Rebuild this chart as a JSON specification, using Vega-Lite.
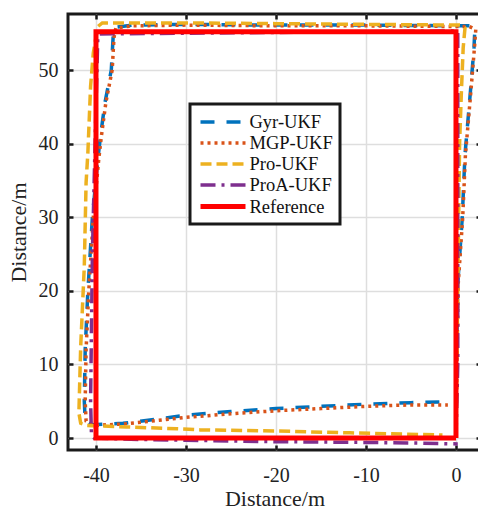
{
  "$schema": "https://vega.github.io/schema/vega-lite/v6.json",
  "width": 413,
  "height": 436,
  "autosize": "none",
  "padding": {"left": 68, "top": 14, "right": 0, "bottom": 60},
  "background": "white",
  "config": {
    "view": {"stroke": "#1a1a1a", "strokeWidth": 3},
    "font": "Liberation Serif",
    "axis": {
      "labelFont": "Liberation Serif",
      "titleFont": "Liberation Serif",
      "labelFontSize": 20,
      "titleFontSize": 22,
      "titleFontWeight": "normal",
      "labelColor": "#222222",
      "titleColor": "#222222",
      "tickColor": "#1a1a1a",
      "tickWidth": 2.5,
      "tickSize": -5,
      "domain": false,
      "gridColor": "#dedede",
      "gridWidth": 1.5
    },
    "legend": {"strokeColor": "#1a1a1a", "strokeWidth": 3, "fillColor": "white"}
  },
  "data": {
    "values": [
      {"s": "Gyr-UKF", "o": 0, "x": 0, "y": 0},
      {"s": "Gyr-UKF", "o": 1, "x": 0.05, "y": 10},
      {"s": "Gyr-UKF", "o": 2, "x": 0.2, "y": 21},
      {"s": "Gyr-UKF", "o": 3, "x": 0.7, "y": 30},
      {"s": "Gyr-UKF", "o": 4, "x": 1.0, "y": 38.5},
      {"s": "Gyr-UKF", "o": 5, "x": 1.6, "y": 47},
      {"s": "Gyr-UKF", "o": 6, "x": 2.0, "y": 53},
      {"s": "Gyr-UKF", "o": 7, "x": 2.1, "y": 55.6},
      {"s": "Gyr-UKF", "o": 8, "x": 1.5, "y": 56.0},
      {"s": "Gyr-UKF", "o": 9, "x": -10, "y": 56.1},
      {"s": "Gyr-UKF", "o": 10, "x": -20, "y": 56.1},
      {"s": "Gyr-UKF", "o": 11, "x": -30, "y": 56.2},
      {"s": "Gyr-UKF", "o": 12, "x": -36, "y": 56.1},
      {"s": "Gyr-UKF", "o": 13, "x": -37.9, "y": 55.8},
      {"s": "Gyr-UKF", "o": 14, "x": -38.1, "y": 54.4},
      {"s": "Gyr-UKF", "o": 15, "x": -38.3, "y": 50},
      {"s": "Gyr-UKF", "o": 16, "x": -39.0, "y": 45.6},
      {"s": "Gyr-UKF", "o": 17, "x": -39.5, "y": 41},
      {"s": "Gyr-UKF", "o": 18, "x": -39.8, "y": 37.8},
      {"s": "Gyr-UKF", "o": 19, "x": -40.4, "y": 30},
      {"s": "Gyr-UKF", "o": 20, "x": -40.9, "y": 20},
      {"s": "Gyr-UKF", "o": 21, "x": -41.2, "y": 12},
      {"s": "Gyr-UKF", "o": 22, "x": -41.3, "y": 5},
      {"s": "Gyr-UKF", "o": 23, "x": -41.2, "y": 2.4},
      {"s": "Gyr-UKF", "o": 24, "x": -40.5, "y": 1.8},
      {"s": "Gyr-UKF", "o": 25, "x": -37, "y": 2.0},
      {"s": "Gyr-UKF", "o": 26, "x": -33, "y": 2.6},
      {"s": "Gyr-UKF", "o": 27, "x": -30, "y": 3.1},
      {"s": "Gyr-UKF", "o": 28, "x": -25, "y": 3.6},
      {"s": "Gyr-UKF", "o": 29, "x": -20, "y": 4.0},
      {"s": "Gyr-UKF", "o": 30, "x": -15, "y": 4.3},
      {"s": "Gyr-UKF", "o": 31, "x": -10, "y": 4.6},
      {"s": "Gyr-UKF", "o": 32, "x": -5, "y": 4.8},
      {"s": "Gyr-UKF", "o": 33, "x": -1.5, "y": 4.9},
      {"s": "MGP-UKF", "o": 0, "x": 0, "y": 0},
      {"s": "MGP-UKF", "o": 1, "x": 0.1, "y": 10},
      {"s": "MGP-UKF", "o": 2, "x": 0.25, "y": 21},
      {"s": "MGP-UKF", "o": 3, "x": 0.75, "y": 30},
      {"s": "MGP-UKF", "o": 4, "x": 1.05, "y": 38.5},
      {"s": "MGP-UKF", "o": 5, "x": 1.65, "y": 47},
      {"s": "MGP-UKF", "o": 6, "x": 2.05, "y": 53},
      {"s": "MGP-UKF", "o": 7, "x": 2.2, "y": 55.5},
      {"s": "MGP-UKF", "o": 8, "x": 1.5, "y": 55.9},
      {"s": "MGP-UKF", "o": 9, "x": -10, "y": 56.0},
      {"s": "MGP-UKF", "o": 10, "x": -20, "y": 56.0},
      {"s": "MGP-UKF", "o": 11, "x": -30, "y": 56.1},
      {"s": "MGP-UKF", "o": 12, "x": -36, "y": 56.0},
      {"s": "MGP-UKF", "o": 13, "x": -37.8, "y": 55.7},
      {"s": "MGP-UKF", "o": 14, "x": -38.0, "y": 54.4},
      {"s": "MGP-UKF", "o": 15, "x": -38.2, "y": 50},
      {"s": "MGP-UKF", "o": 16, "x": -38.9, "y": 45.6},
      {"s": "MGP-UKF", "o": 17, "x": -39.4, "y": 41},
      {"s": "MGP-UKF", "o": 18, "x": -39.7, "y": 37.8},
      {"s": "MGP-UKF", "o": 19, "x": -40.3, "y": 30},
      {"s": "MGP-UKF", "o": 20, "x": -40.8, "y": 20},
      {"s": "MGP-UKF", "o": 21, "x": -41.1, "y": 12},
      {"s": "MGP-UKF", "o": 22, "x": -41.2, "y": 5},
      {"s": "MGP-UKF", "o": 23, "x": -41.1, "y": 2.3},
      {"s": "MGP-UKF", "o": 24, "x": -40.4, "y": 1.7},
      {"s": "MGP-UKF", "o": 25, "x": -37, "y": 1.9},
      {"s": "MGP-UKF", "o": 26, "x": -33, "y": 2.4},
      {"s": "MGP-UKF", "o": 27, "x": -30, "y": 2.8},
      {"s": "MGP-UKF", "o": 28, "x": -25, "y": 3.3},
      {"s": "MGP-UKF", "o": 29, "x": -20, "y": 3.7},
      {"s": "MGP-UKF", "o": 30, "x": -15, "y": 4.0},
      {"s": "MGP-UKF", "o": 31, "x": -10, "y": 4.3},
      {"s": "MGP-UKF", "o": 32, "x": -5, "y": 4.5},
      {"s": "MGP-UKF", "o": 33, "x": -0.9, "y": 4.5},
      {"s": "Pro-UKF", "o": 0, "x": 0, "y": 0},
      {"s": "Pro-UKF", "o": 1, "x": 0.1, "y": 10},
      {"s": "Pro-UKF", "o": 2, "x": 0.2, "y": 20},
      {"s": "Pro-UKF", "o": 3, "x": 0.3, "y": 30},
      {"s": "Pro-UKF", "o": 4, "x": 0.4, "y": 40},
      {"s": "Pro-UKF", "o": 5, "x": 0.6, "y": 47},
      {"s": "Pro-UKF", "o": 6, "x": 0.8, "y": 53},
      {"s": "Pro-UKF", "o": 7, "x": 1.0, "y": 55.7},
      {"s": "Pro-UKF", "o": 8, "x": 0.5, "y": 56.1},
      {"s": "Pro-UKF", "o": 9, "x": -10, "y": 56.2},
      {"s": "Pro-UKF", "o": 10, "x": -20, "y": 56.3},
      {"s": "Pro-UKF", "o": 11, "x": -30, "y": 56.4},
      {"s": "Pro-UKF", "o": 12, "x": -39.3, "y": 56.4},
      {"s": "Pro-UKF", "o": 13, "x": -39.8, "y": 55.9},
      {"s": "Pro-UKF", "o": 14, "x": -40.3, "y": 52.3},
      {"s": "Pro-UKF", "o": 15, "x": -40.6, "y": 47.8},
      {"s": "Pro-UKF", "o": 16, "x": -40.9, "y": 38.8},
      {"s": "Pro-UKF", "o": 17, "x": -41.1, "y": 34.7},
      {"s": "Pro-UKF", "o": 18, "x": -41.3, "y": 23.3},
      {"s": "Pro-UKF", "o": 19, "x": -41.7, "y": 12.4},
      {"s": "Pro-UKF", "o": 20, "x": -41.9, "y": 3.4},
      {"s": "Pro-UKF", "o": 21, "x": -41.7, "y": 2.0},
      {"s": "Pro-UKF", "o": 22, "x": -41.0, "y": 1.7},
      {"s": "Pro-UKF", "o": 23, "x": -36.6, "y": 1.5},
      {"s": "Pro-UKF", "o": 24, "x": -31, "y": 1.25},
      {"s": "Pro-UKF", "o": 25, "x": -28.4, "y": 1.1},
      {"s": "Pro-UKF", "o": 26, "x": -20, "y": 0.95},
      {"s": "Pro-UKF", "o": 27, "x": -11.8, "y": 0.7},
      {"s": "Pro-UKF", "o": 28, "x": -1.5, "y": 0.4},
      {"s": "ProA-UKF", "o": 0, "x": 0, "y": 0},
      {"s": "ProA-UKF", "o": 1, "x": 0.2, "y": 10},
      {"s": "ProA-UKF", "o": 2, "x": 0.2, "y": 20},
      {"s": "ProA-UKF", "o": 3, "x": 0.2, "y": 30},
      {"s": "ProA-UKF", "o": 4, "x": 0.2, "y": 40},
      {"s": "ProA-UKF", "o": 5, "x": 0.2, "y": 50},
      {"s": "ProA-UKF", "o": 6, "x": 0.2, "y": 55.3},
      {"s": "ProA-UKF", "o": 7, "x": -10, "y": 55.2},
      {"s": "ProA-UKF", "o": 8, "x": -20, "y": 55.1},
      {"s": "ProA-UKF", "o": 9, "x": -30, "y": 55.0},
      {"s": "ProA-UKF", "o": 10, "x": -39.6, "y": 54.9},
      {"s": "ProA-UKF", "o": 11, "x": -39.8, "y": 54.4},
      {"s": "ProA-UKF", "o": 12, "x": -40.0, "y": 45},
      {"s": "ProA-UKF", "o": 13, "x": -40.2, "y": 35},
      {"s": "ProA-UKF", "o": 14, "x": -40.4, "y": 25},
      {"s": "ProA-UKF", "o": 15, "x": -40.5, "y": 15},
      {"s": "ProA-UKF", "o": 16, "x": -40.6, "y": 5},
      {"s": "ProA-UKF", "o": 17, "x": -40.5, "y": 0.4},
      {"s": "ProA-UKF", "o": 18, "x": -40.2, "y": 0.0},
      {"s": "ProA-UKF", "o": 19, "x": -35, "y": -0.2},
      {"s": "ProA-UKF", "o": 20, "x": -30, "y": -0.3},
      {"s": "ProA-UKF", "o": 21, "x": -20, "y": -0.5},
      {"s": "ProA-UKF", "o": 22, "x": -10, "y": -0.6},
      {"s": "ProA-UKF", "o": 23, "x": -4, "y": -0.7},
      {"s": "ProA-UKF", "o": 24, "x": 0.2, "y": -0.8},
      {"s": "Reference", "o": 0, "x": 0, "y": 0},
      {"s": "Reference", "o": 1, "x": 0, "y": 55.2},
      {"s": "Reference", "o": 2, "x": -40, "y": 55.2},
      {"s": "Reference", "o": 3, "x": -40, "y": 0},
      {"s": "Reference", "o": 4, "x": 0, "y": 0}
    ]
  },
  "layer": [
    {
      "mark": {"type": "line", "strokeCap": "butt", "strokeJoin": "miter", "clip": true},
      "encoding": {
        "x": {
          "field": "x", "type": "quantitative",
          "scale": {"domain": [-43.11, 2.78], "nice": false, "zero": false},
          "axis": {"orient": "bottom", "values": [-40, -30, -20, -10, 0], "labelExpr": "datum.value + ''", "title": "Distance/m", "labelPadding": 20, "titlePadding": 3, "grid": true}
        },
        "y": {
          "field": "y", "type": "quantitative",
          "scale": {"domain": [-1.63, 57.61], "nice": false, "zero": false},
          "axis": {"orient": "left", "values": [0, 10, 20, 30, 40, 50], "labelExpr": "datum.value + ''", "title": "Distance/m", "labelPadding": 15, "titlePadding": 8, "grid": true}
        },
        "order": {"field": "o", "type": "quantitative"},
        "color": {
          "field": "s", "type": "nominal",
          "scale": {"domain": ["Gyr-UKF", "MGP-UKF", "Pro-UKF", "ProA-UKF", "Reference"], "range": ["#0072BD", "#D95319", "#EDB120", "#7E2F8E", "#FF0000"]},
          "legend": {"title": null, "orient": "none", "legendX": 122, "legendY": 90, "symbolType": "M-2.5,0H2.5", "symbolSize": 324, "symbolOffset": 14.5, "labelFontSize": 18.5, "labelFont": "Liberation Serif", "labelColor": "#111111", "padding": 7, "labelOffset": 15, "rowPadding": 0}
        },
        "strokeDash": {
          "field": "s", "type": "nominal",
          "scale": {"domain": ["Gyr-UKF", "MGP-UKF", "Pro-UKF", "ProA-UKF", "Reference"], "range": [[14, 12], [3, 4], [11, 5], [15, 6, 3, 6], [1, 0]]},
          "legend": {"title": null, "orient": "none", "legendX": 122, "legendY": 90, "symbolType": "M-2.5,0H2.5", "symbolSize": 324, "symbolOffset": 14.5, "labelFontSize": 18.5, "labelFont": "Liberation Serif", "labelColor": "#111111", "padding": 7, "labelOffset": 15, "rowPadding": 0}
        },
        "strokeWidth": {
          "field": "s", "type": "nominal",
          "scale": {"type": "ordinal", "domain": ["Gyr-UKF", "MGP-UKF", "Pro-UKF", "ProA-UKF", "Reference"], "range": [3.5, 3.5, 3.5, 3.5, 5]},
          "legend": {"title": null, "orient": "none", "legendX": 122, "legendY": 90, "symbolType": "M-2.5,0H2.5", "symbolSize": 324, "symbolOffset": 14.5, "labelFontSize": 18.5, "labelFont": "Liberation Serif", "labelColor": "#111111", "padding": 7, "labelOffset": 15, "rowPadding": 0}
        }
      }
    },
    {
      "mark": {"type": "point", "opacity": 0},
      "encoding": {
        "x": {"field": "x", "type": "quantitative", "axis": {"orient": "top", "values": [-40, -30, -20, -10, 0], "labels": false, "title": null, "grid": false}},
        "y": {"field": "y", "type": "quantitative", "axis": {"orient": "right", "values": [0, 10, 20, 30, 40, 50], "labels": false, "title": null, "grid": false}}
      }
    }
  ],
  "resolve": {"axis": {"x": "independent", "y": "independent"}}
}
